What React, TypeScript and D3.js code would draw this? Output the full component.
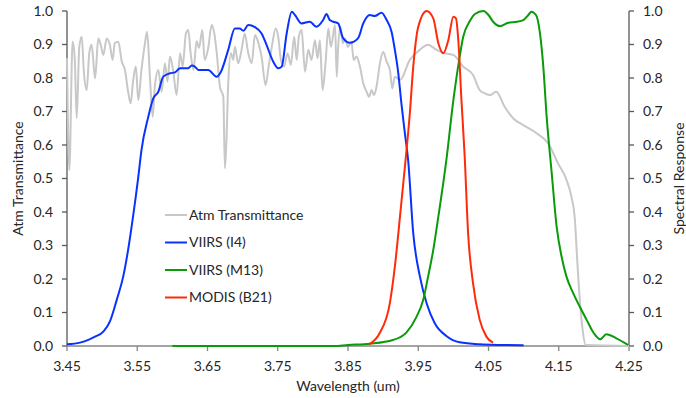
import React from 'react';
import * as d3 from 'd3';

// wavelength (um), value
const atmTransmittance: [number, number][] = [
  [3.45, 0.859], [3.4533, 0.525], [3.458, 0.908], [3.461, 0.859], [3.4638, 0.68], [3.4675, 0.893],
  [3.471, 0.923], [3.474, 0.819], [3.478, 0.764], [3.4817, 0.874], [3.485, 0.899], [3.49, 0.799],
  [3.4945, 0.918], [3.498, 0.899], [3.5017, 0.869], [3.5065, 0.918], [3.511, 0.899], [3.515, 0.854],
  [3.518, 0.904], [3.523, 0.908], [3.528, 0.849], [3.5325, 0.824], [3.537, 0.759], [3.5406, 0.724],
  [3.544, 0.789], [3.548, 0.834], [3.5515, 0.734], [3.556, 0.824], [3.561, 0.904], [3.564, 0.938],
  [3.568, 0.804], [3.572, 0.684], [3.575, 0.774], [3.58, 0.824], [3.5847, 0.759], [3.5894, 0.844],
  [3.593, 0.789], [3.5966, 0.864], [3.601, 0.824], [3.606, 0.749], [3.611, 0.874], [3.6146, 0.834],
  [3.6193, 0.933], [3.6226, 0.943], [3.626, 0.874], [3.63, 0.824], [3.6345, 0.91], [3.638, 0.89],
  [3.6426, 0.943], [3.646, 0.854], [3.651, 0.889], [3.656, 0.958], [3.6597, 0.933], [3.663, 0.878],
  [3.6677, 0.774], [3.6725, 0.744], [3.6748, 0.53], [3.677, 0.615], [3.6795, 0.784], [3.6834, 0.874],
  [3.6866, 0.854], [3.689, 0.893], [3.6937, 0.844], [3.6985, 0.884], [3.703, 0.933], [3.708, 0.874],
  [3.713, 0.844], [3.7175, 0.928], [3.722, 0.908], [3.727, 0.864], [3.7327, 0.779], [3.737, 0.834],
  [3.742, 0.899], [3.747, 0.948], [3.7507, 0.923], [3.7545, 0.854], [3.759, 0.834], [3.764, 0.874],
  [3.7686, 0.839], [3.7734, 0.923], [3.777, 0.854], [3.78, 0.923], [3.784, 0.943], [3.7888, 0.819],
  [3.7935, 0.884], [3.798, 0.854], [3.803, 0.913], [3.8067, 0.859], [3.81, 0.913], [3.8138, 0.764],
  [3.818, 0.844], [3.822, 0.948], [3.8257, 0.893], [3.8315, 0.958], [3.834, 0.804], [3.836, 0.893],
  [3.8395, 0.953], [3.8424, 0.904], [3.8457, 0.918], [3.85, 0.893], [3.855, 0.908], [3.858, 0.854],
  [3.862, 0.864], [3.867, 0.834], [3.8717, 0.784], [3.8765, 0.759], [3.88, 0.744], [3.8835, 0.764],
  [3.887, 0.749], [3.8906, 0.774], [3.8955, 0.844], [3.9, 0.878], [3.905, 0.849], [3.9097, 0.824],
  [3.913, 0.769], [3.9167, 0.804], [3.924, 0.794], [3.938, 0.854], [3.952, 0.884], [3.964, 0.899],
  [3.976, 0.884], [3.988, 0.874], [4.0, 0.869], [4.014, 0.834], [4.028, 0.809], [4.0375, 0.764],
  [4.045, 0.754], [4.052, 0.749], [4.061, 0.759], [4.073, 0.714], [4.085, 0.68], [4.099, 0.66],
  [4.1185, 0.635], [4.135, 0.605], [4.149, 0.545], [4.161, 0.496], [4.168, 0.446], [4.173, 0.376],
  [4.176, 0.267], [4.18, 0.137], [4.184, 0.048], [4.1885, 0.003], [4.25, 0],
];

const viirsI4: [number, number][] = [
  [3.45, 0.005], [3.4685, 0.01], [3.482, 0.02], [3.49, 0.028], [3.5017, 0.043], [3.511, 0.073],
  [3.5207, 0.137], [3.53, 0.207], [3.537, 0.287], [3.544, 0.386], [3.5515, 0.505], [3.556, 0.585],
  [3.5657, 0.684], [3.5728, 0.739], [3.58, 0.759], [3.587, 0.804], [3.5966, 0.814], [3.6037, 0.817],
  [3.611, 0.829], [3.6226, 0.829], [3.6274, 0.837], [3.632, 0.834], [3.637, 0.824], [3.651, 0.824],
  [3.663, 0.804], [3.669, 0.818], [3.6795, 0.884], [3.689, 0.948], [3.696, 0.948], [3.701, 0.941],
  [3.708, 0.958], [3.7175, 0.952], [3.727, 0.933], [3.734, 0.899], [3.7435, 0.849], [3.7507, 0.829],
  [3.7556, 0.834], [3.7627, 0.933], [3.77, 0.998], [3.7745, 0.988], [3.784, 0.963], [3.7957, 0.968],
  [3.805, 0.953], [3.8146, 0.973], [3.8194, 0.991], [3.824, 0.973], [3.829, 0.968], [3.836, 0.963],
  [3.843, 0.919], [3.8526, 0.905], [3.8644, 0.919], [3.8717, 0.963], [3.881, 0.988], [3.888, 0.985],
  [3.8978, 0.995], [3.905, 0.973], [3.912, 0.938], [3.9167, 0.884], [3.9216, 0.814], [3.926, 0.724],
  [3.931, 0.635], [3.9356, 0.555], [3.9429, 0.336], [3.9524, 0.207], [3.962, 0.127], [3.9735, 0.068],
  [3.99, 0.03], [4.009, 0.011], [4.0375, 0.005], [4.07, 0.003], [4.1, 0.002],
];

const viirsM13: [number, number][] = [
  [3.6, 0], [3.83, 0], [3.85, 0.003], [3.881, 0.007], [3.914, 0.018], [3.933, 0.04], [3.9475, 0.087],
  [3.957, 0.137], [3.964, 0.207], [3.9714, 0.287], [3.9786, 0.386], [3.9856, 0.486], [3.99, 0.555],
  [4.0, 0.734], [4.009, 0.864], [4.014, 0.923], [4.0235, 0.97], [4.0307, 0.991], [4.0426, 1.0],
  [4.05, 0.988], [4.0566, 0.968], [4.0664, 0.955], [4.078, 0.965], [4.09, 0.968], [4.0996, 0.973],
  [4.1067, 0.988], [4.111, 0.998], [4.1176, 0.988], [4.1233, 0.933], [4.128, 0.834], [4.1328, 0.684],
  [4.14, 0.516], [4.147, 0.356], [4.154, 0.267], [4.161, 0.207], [4.1707, 0.157], [4.18, 0.117],
  [4.1897, 0.078], [4.2, 0.038], [4.209, 0.02], [4.2177, 0.035], [4.232, 0.023], [4.249, 0.003],
];

const modisB21: [number, number][] = [
  [3.88, 0.005], [3.895, 0.038], [3.9095, 0.127], [3.9167, 0.237], [3.924, 0.386], [3.931, 0.535],
  [3.938, 0.694], [3.9429, 0.834], [3.95, 0.953], [3.962, 1.0], [3.9714, 0.978], [3.9786, 0.904],
  [3.9856, 0.874], [3.9928, 0.913], [4.0, 0.983], [4.0037, 0.978], [4.007, 0.913], [4.0115, 0.734],
  [4.016, 0.57], [4.021, 0.336], [4.028, 0.187], [4.0375, 0.078], [4.047, 0.028], [4.0565, 0.01],
];

const xTicks = [3.45, 3.55, 3.65, 3.75, 3.85, 3.95, 4.05, 4.15, 4.25];
const yTicks = [0, 0.1, 0.2, 0.3, 0.4, 0.5, 0.6, 0.7, 0.8, 0.9, 1.0];

const seriesList = [
  { name: 'Atm Transmittance', data: atmTransmittance, color: '#c8c8c8', width: 2 },
  { name: 'VIIRS (I4)', data: viirsI4, color: '#0a32ff', width: 2 },
  { name: 'VIIRS (M13)', data: viirsM13, color: '#0a9a0a', width: 2 },
  { name: 'MODIS (B21)', data: modisB21, color: '#ff2a0a', width: 2 },
];

const W = 686;
const H = 398;
const margin = { top: 11, right: 57, bottom: 52, left: 67 };
const font = 'Lato, "Open Sans", sans-serif';
const fs = 14;

export default function App() {
  const x = d3.scaleLinear().domain([3.45, 4.25]).range([margin.left, W - margin.right]);
  const y = d3.scaleLinear().domain([0, 1]).range([H - margin.bottom, margin.top]);
  const line = d3.line<[number, number]>()
    .x(d => x(d[0]))
    .y(d => y(d[1]))
    .curve(d3.curveMonotoneX);

  const x0 = x(3.45);
  const x1 = x(4.25);
  const yb = y(0);

  return (
    <svg width={W} height={H} style={{ position: 'absolute', left: 0, top: 0 }} fontFamily={font}>
      <rect width={W} height={H} fill="#fff" />
      {/* left axis */}
      <line x1={x0} x2={x0} y1={y(1)} y2={yb} stroke="#595959" strokeWidth={1.3} />
      {yTicks.map(t => (
        <g key={'l' + t}>
          <line x1={x0 - 5} x2={x0} y1={y(t)} y2={y(t)} stroke="#595959" strokeWidth={1.3} />
          <text x={x0 - 14} y={y(t)} dy="0.35em" textAnchor="end" fontSize={fs} fill="#262626">{t.toFixed(1)}</text>
        </g>
      ))}
      {/* right axis */}
      <line x1={x1} x2={x1} y1={y(1)} y2={yb} stroke="#595959" strokeWidth={1.3} />
      {yTicks.map(t => (
        <g key={'r' + t}>
          <line x1={x1} x2={x1 + 5} y1={y(t)} y2={y(t)} stroke="#595959" strokeWidth={1.3} />
          <text x={x1 + 14} y={y(t)} dy="0.35em" textAnchor="start" fontSize={fs} fill="#262626">{t.toFixed(1)}</text>
        </g>
      ))}
      {/* bottom axis */}
      <line x1={x0} x2={x1} y1={yb} y2={yb} stroke="#868686" strokeWidth={1.5} />
      {xTicks.map(t => (
        <g key={'b' + t}>
          <line x1={x(t)} x2={x(t)} y1={yb} y2={yb + 5} stroke="#868686" strokeWidth={1.3} />
          <text x={x(t)} y={yb + 25} textAnchor="middle" fontSize={fs} fill="#262626">{t.toFixed(2)}</text>
        </g>
      ))}
      <text x={(x0 + x1) / 2} y={391} textAnchor="middle" fontSize={fs} fill="#262626">Wavelength (um)</text>
      <text transform={`translate(23,${(y(1) + yb) / 2}) rotate(-90)`} textAnchor="middle" fontSize={fs} fill="#262626">Atm Transmittance</text>
      <text transform={`translate(684,${(y(1) + yb) / 2}) rotate(-90)`} textAnchor="middle" fontSize={fs} fill="#262626">Spectral Response</text>

      {seriesList.map(s => (
        <path key={s.name} d={line(s.data) || ''} fill="none" stroke={s.color} strokeWidth={s.width} strokeLinejoin="round" />
      ))}

      {/* legend */}
      {seriesList.map((s, i) => {
        const ly = 215 + i * 27.5;
        return (
          <g key={'lg' + s.name}>
            <line x1={165} x2={187} y1={ly} y2={ly} stroke={s.color} strokeWidth={2} />
            <text x={189} y={ly} dy="0.35em" fontSize={fs} fill="#262626">{s.name}</text>
          </g>
        );
      })}
    </svg>
  );
}
